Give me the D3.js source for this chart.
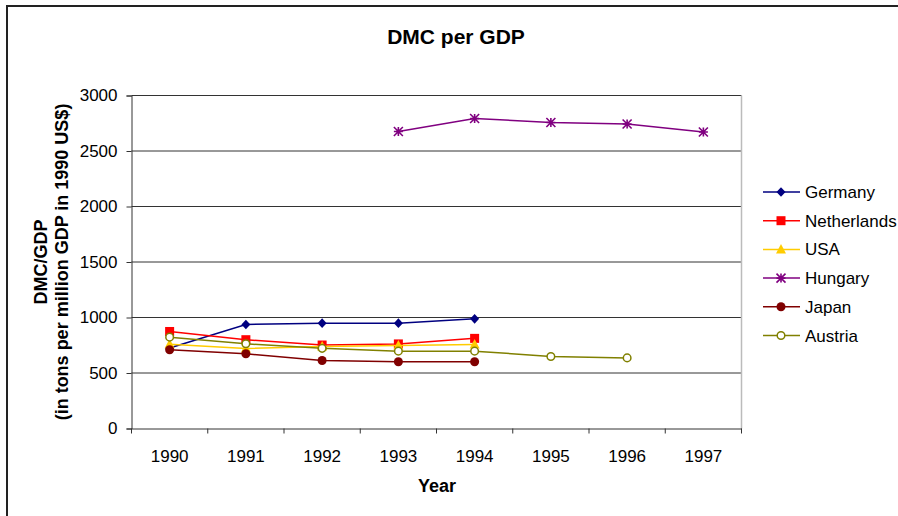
<!DOCTYPE html>
<html><head><meta charset="utf-8">
<script src="https://cdn.jsdelivr.net/npm/d3@7"></script>
<style>
html,body{margin:0;padding:0;background:#fff;}
svg{display:block;font-family:"Liberation Sans",Arial,sans-serif;}
</style></head>
<body>
<svg id="chart" width="898" height="516"></svg>
<script>
const years = ["1990","1991","1992","1993","1994","1995","1996","1997"];
const yTicks = [0,500,1000,1500,2000,2500,3000];
const seriesNames = ["Germany","Netherlands","USA","Hungary","Japan","Austria"];
const germany     = [725, 937, 949, 949, 988, null, null, null];
const netherlands = [874, 800, 752, 762, 812, null, null, null];
const usa         = [760, 720, 738, 747, 757, null, null, null];
const hungary     = [null, null, null, 2676, 2793, 2757, 2743, 2671];
const japan       = [709, 673, 613, 601, 601, null, null, null];
const austria     = [823, 763, 722, 697, 697, 649, 636, null];
const seriesValues = [germany, netherlands, usa, hungary, japan, austria];
const colors = ["#000080","#FF0000","#FFCC00","#800080","#800000","#808000"];
const markers = ["diamond","square","triangle","asterisk","circle","opencircle"];

const svg = d3.select("#chart");
const L = 131.5, R = 741.5, T = 95.5, B = 428.5;
const FONT = "Liberation Sans, Arial, sans-serif";

// outer border
svg.append("path").attr("d","M7,520 V6 H900").attr("fill","none").attr("stroke","#222").attr("stroke-width",2);

const x = d3.scaleBand().domain(years).range([L, R]).padding(0);
const y = d3.scaleLinear().domain([0,3000]).range([B, T]);
const cx = d => x(d) + x.bandwidth()/2;

// gridlines
svg.append("g").selectAll("line").data(yTicks.filter(t=>t>0)).join("line")
  .attr("x1",L).attr("x2",R).attr("y1",d=>y(d)).attr("y2",d=>y(d))
  .attr("stroke","#333").attr("stroke-width",1);

// right plot border
svg.append("line").attr("x1",R).attr("x2",R).attr("y1",T).attr("y2",B)
  .attr("stroke","#bbb").attr("stroke-width",1.5);

// y axis
const yAxis = d3.axisLeft(y).tickValues(yTicks).tickSize(5).tickPadding(9).tickFormat(d3.format("d"));
const gy = svg.append("g").attr("transform",`translate(${L},0)`).call(yAxis);
gy.select(".domain").attr("stroke","#333");
gy.selectAll(".tick line").attr("stroke","#333");
gy.selectAll("text").attr("font-size",17).attr("fill","#000").attr("font-family",FONT);

// x axis
const xAxis = d3.axisBottom(x).tickSize(0).tickPadding(21);
const gx = svg.append("g").attr("transform",`translate(0,${B})`).call(xAxis);
gx.select(".domain").attr("stroke","#333");
gx.selectAll("text").attr("font-size",17).attr("fill","#000").attr("font-family",FONT);
// boundary ticks
const bounds = years.map(d=>x(d)).concat([x(years[years.length-1])+x.bandwidth()]);
gx.append("g").selectAll("line").data(bounds).join("line")
  .attr("x1",d=>d).attr("x2",d=>d).attr("y1",0).attr("y2",5).attr("stroke","#333");

// title & labels
svg.append("text").attr("x",456).attr("y",44).attr("text-anchor","middle")
  .attr("font-size",21).attr("font-weight","bold").text("DMC per GDP");
svg.append("text").attr("x",437).attr("y",492).attr("text-anchor","middle")
  .attr("font-size",18).attr("font-weight","bold").text("Year");
const yl = svg.append("g").attr("transform","translate(0,262) rotate(-90)");
yl.append("text").attr("x",0).attr("y",47).attr("text-anchor","middle")
  .attr("font-size",18).attr("font-weight","bold").text("DMC/GDP");
yl.append("text").attr("x",0).attr("y",68).attr("text-anchor","middle")
  .attr("font-size",18).attr("font-weight","bold").text("(in tons per million GDP in 1990 US$)");

function drawMarker(g, type, color, px, py){
  if(type==="diamond"){
    g.append("path").attr("d",`M${px},${py-4.8}L${px+4.5},${py}L${px},${py+4.8}L${px-4.5},${py}Z`).attr("fill",color);
  } else if(type==="square"){
    g.append("rect").attr("x",px-4.5).attr("y",py-4.5).attr("width",9).attr("height",9).attr("fill",color);
  } else if(type==="triangle"){
    g.append("path").attr("d",`M${px},${py-5.5}L${px+5},${py+4}L${px-5},${py+4}Z`).attr("fill",color);
  } else if(type==="asterisk"){
    const r=4.5;
    g.append("path").attr("d",`M${px-r},${py}H${px+r}M${px},${py-r}V${py+r}M${px-r},${py-r}L${px+r},${py+r}M${px-r},${py+r}L${px+r},${py-r}`)
      .attr("stroke",color).attr("stroke-width",1.6).attr("fill","none");
  } else if(type==="circle"){
    g.append("circle").attr("cx",px).attr("cy",py).attr("r",4.5).attr("fill",color);
  } else if(type==="opencircle"){
    g.append("circle").attr("cx",px).attr("cy",py).attr("r",3.8).attr("fill","#fff").attr("stroke",color).attr("stroke-width",1.5);
  }
}

const line = d3.line().defined(d=>d.v!==null).x(d=>cx(d.year)).y(d=>y(d.v));
seriesNames.forEach((name,i)=>{
  const data = years.map((yr,j)=>({year:yr, v:seriesValues[i][j]}));
  const g = svg.append("g");
  g.append("path").datum(data).attr("d",line).attr("fill","none")
    .attr("stroke",colors[i]).attr("stroke-width",1.5);
  data.filter(d=>d.v!==null).forEach(d=>drawMarker(g, markers[i], colors[i], cx(d.year), y(d.v)));
});

// legend
const lg = svg.append("g");
seriesNames.forEach((name,i)=>{
  const ly = 192 + i*28.7;
  lg.append("line").attr("x1",763).attr("x2",800).attr("y1",ly).attr("y2",ly)
    .attr("stroke",colors[i]).attr("stroke-width",1.5);
  drawMarker(lg, markers[i], colors[i], 781, ly);
  lg.append("text").attr("x",805).attr("y",ly+6).attr("font-size",17).text(name);
});
</script>
</body></html>
